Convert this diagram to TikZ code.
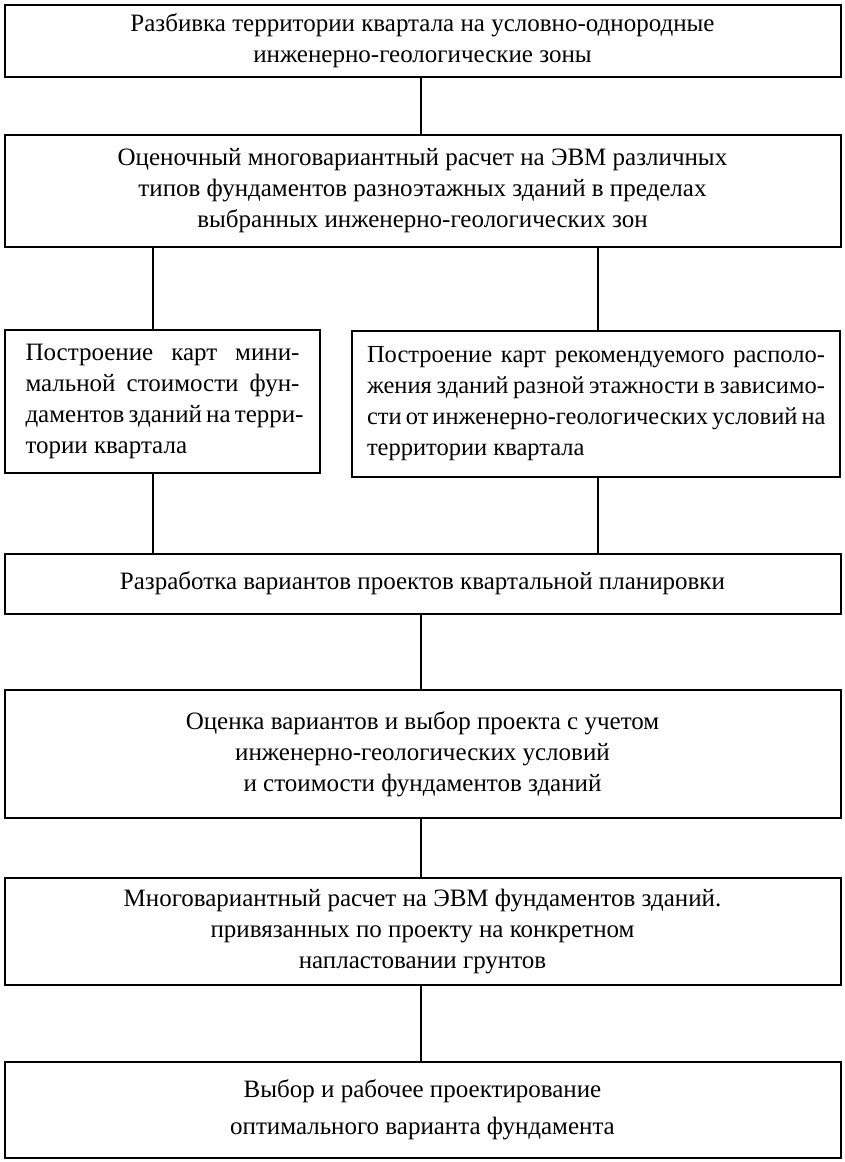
\documentclass[tikz,border=0pt]{standalone}
\usepackage{fontspec}
\setmainfont{Liberation Serif}
\begin{document}
\begin{tikzpicture}[x=1pt,y=1pt,
  box/.style={draw=black, line width=2pt, inner sep=0pt, align=center,
    font=\fontsize{25}{31}\selectfont},
  link/.style={draw=black, line width=1.5pt}]
\useasboundingbox[fill=white] (0,0) rectangle (844,-1162);
\node[box, minimum width=836pt, minimum height=72pt] (b1) at (422.5,-41)
  {Разбивка территории квартала на условно-однородные\\инженерно-геологические зоны};
\node[box, minimum width=836pt, minimum height=112pt] (b2) at (422.5,-191)
  {Оценочный многовариантный расчет на ЭВМ различных\\типов фундаментов разноэтажных зданий в пределах\\выбранных инженерно-геологических зон};
\node[box, minimum width=315pt, minimum height=143pt, align=left] (b3) at (162.5,-401.5)
  {\makebox[274pt][s]{Построение карт мини-}\\
   \makebox[274pt][s]{мальной стоимости фун-}\\
   \makebox[274pt][s]{даментов зданий на терри-}\\
   \makebox[274pt][l]{тории квартала}};
\node[box, minimum width=488pt, minimum height=146pt, align=left,
  font=\fontsize{24.5}{31}\selectfont] (b4) at (596,-404)
  {\makebox[458pt][s]{Построение карт рекомендуемого располо-}\\
   \makebox[458pt][s]{жения зданий разной этажности в зависимо-}\\
   \makebox[458pt][s]{сти от инженерно-геологических условий на}\\
   \makebox[458pt][l]{территории квартала}};
\node[box, minimum width=836pt, minimum height=60pt] (b5) at (422.5,-583.5)
  {\raisebox{5pt}{Разработка вариантов проектов квартальной планировки}};
\node[box, minimum width=836pt, minimum height=128pt] (b6) at (422.5,-754)
  {Оценка вариантов и выбор проекта с учетом\\инженерно-геологических условий\\и стоимости фундаментов зданий};
\node[box, minimum width=836pt, minimum height=107pt] (b7) at (422.5,-931.5)
  {Многовариантный расчет на ЭВМ фундаментов зданий.\\привязанных по проекту на конкретном\\напластовании грунтов};
\node[box, minimum width=836pt, minimum height=96pt] (b8) at (422.5,-1110)
  {Выбор и рабочее проектирование\\[6pt]оптимального варианта фундамента};
\coordinate (l3) at (153,0);
\coordinate (l4) at (598,0);
\coordinate (lc) at (421,0);
\draw[link] (b1.south -| lc) -- (b2.north -| lc);
\draw[link] (b2.south -| l3) -- (b3.north -| l3);
\draw[link] (b2.south -| l4) -- (b4.north -| l4);
\draw[link] (b3.south -| l3) -- (b5.north -| l3);
\draw[link] (b4.south -| l4) -- (b5.north -| l4);
\draw[link] (b5.south -| lc) -- (b6.north -| lc);
\draw[link] (b6.south -| lc) -- (b7.north -| lc);
\draw[link] (b7.south -| lc) -- (b8.north -| lc);
\end{tikzpicture}
\end{document}
